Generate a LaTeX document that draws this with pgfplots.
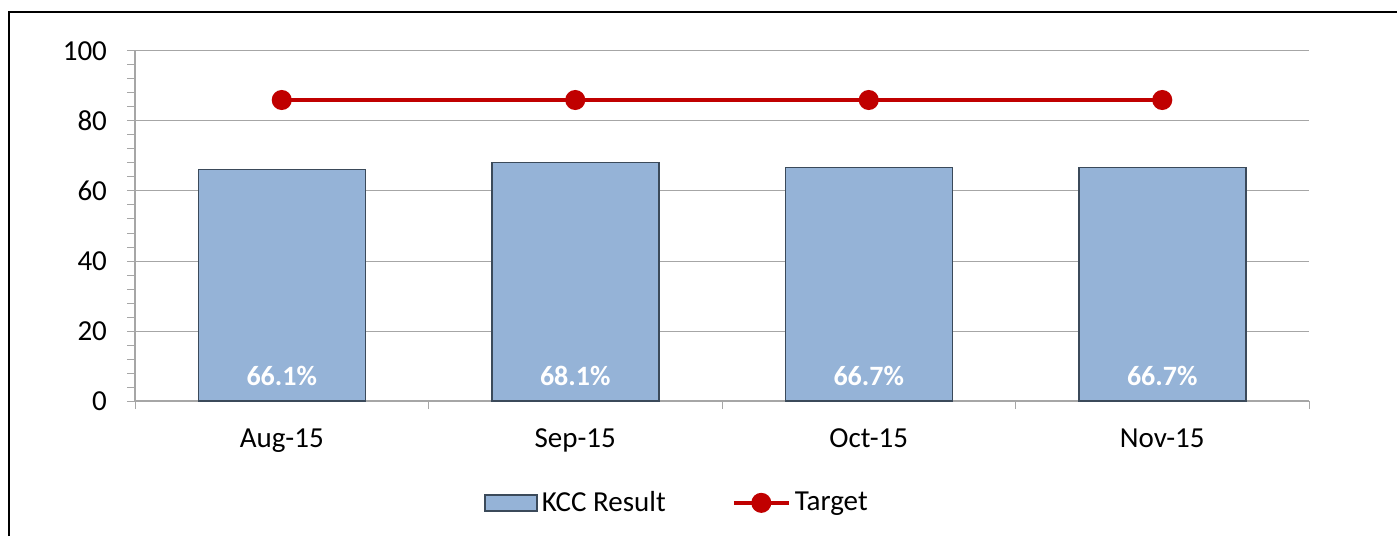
\documentclass[border=0pt]{standalone}
\usepackage{fontspec}
\setmainfont{Carlito}
\usepackage{pgfplots}
\pgfplotsset{compat=1.18}
\definecolor{barblue}{HTML}{95B3D7}
\definecolor{baredge}{HTML}{3B4A5A}
\definecolor{tgtred}{HTML}{C00000}
\definecolor{gridgray}{HTML}{A6A6A6}

\begin{document}
\begin{tikzpicture}
\useasboundingbox (0pt,0pt) rectangle (698.5pt,268pt);
\draw[line width=1pt] (4.5pt,0pt) -- (4.5pt,262pt) -- (698.5pt,262pt);
\begin{axis}[
    at={(67.5pt,67.5pt)}, anchor=south west,
    scale only axis,
    width=587pt, height=175pt,
    xmin=-0.5, xmax=3.5,
    ymin=0, ymax=100,
    ytick={0,20,...,100},
    minor y tick num=4,
    xtick={0,1,2,3},
    xticklabels={Aug-15,Sep-15,Oct-15,Nov-15},
    minor xtick={-0.5,0.5,1.5,2.5,3.5},
    major x tick style={draw=none},
    tick align=outside,
    major tick length=4pt,
    minor tick length=4pt,
    tick style={gridgray, line width=0.5pt},
    axis lines*=left,
    axis line style={gridgray, line width=0.6pt},
    ymajorgrids,
    major grid style={gridgray, line width=0.5pt},
    /pgf/number format/assume math mode=true,
    tick label style={font=\fontsize{14.5}{17}\selectfont, black},
    yticklabel style={xshift=-6.5pt},
    xticklabel style={yshift=-6.5pt},
    clip=false,
    legend style={at={(0.4625,-0.291)}, anchor=center, draw=none,
        font=\fontsize{14.5}{17}\selectfont, legend columns=2,
        /tikz/every even column/.append style={column sep=31pt}},
]
\addplot[ybar, bar width=83.5pt, bar shift=0pt, fill=barblue, draw=baredge,
    line width=0.75pt,
    visualization depends on={rawy \as \rawy},
    point meta=rawy,
    nodes near coords={\pgfmathprintnumber[fixed,fixed zerofill,precision=1]{\pgfplotspointmeta}\%},
    every node near coord/.append style={font=\fontsize{14}{17}\selectfont\bfseries,
        text=white, anchor=center, yshift={(7.14-\rawy)*1.75pt}},
    legend image code/.code={\draw[fill=barblue, draw=baredge, line width=0.75pt] (0pt,-4pt) rectangle (26pt,4pt);}]
coordinates {(0,66.1) (1,68.1) (2,66.7) (3,66.7)};
\addlegendentry{KCC Result}
\addplot[tgtred, line width=2pt, mark=*, mark size=4pt,
    legend image code/.code={\draw[tgtred, line width=2pt] (0pt,0pt) -- (27.5pt,0pt);
        \fill[tgtred] (13.75pt,0pt) circle (4pt);}]
coordinates {(0,86) (1,86) (2,86) (3,86)};
\addlegendentry{Target}
\end{axis}
\end{tikzpicture}
\end{document}
